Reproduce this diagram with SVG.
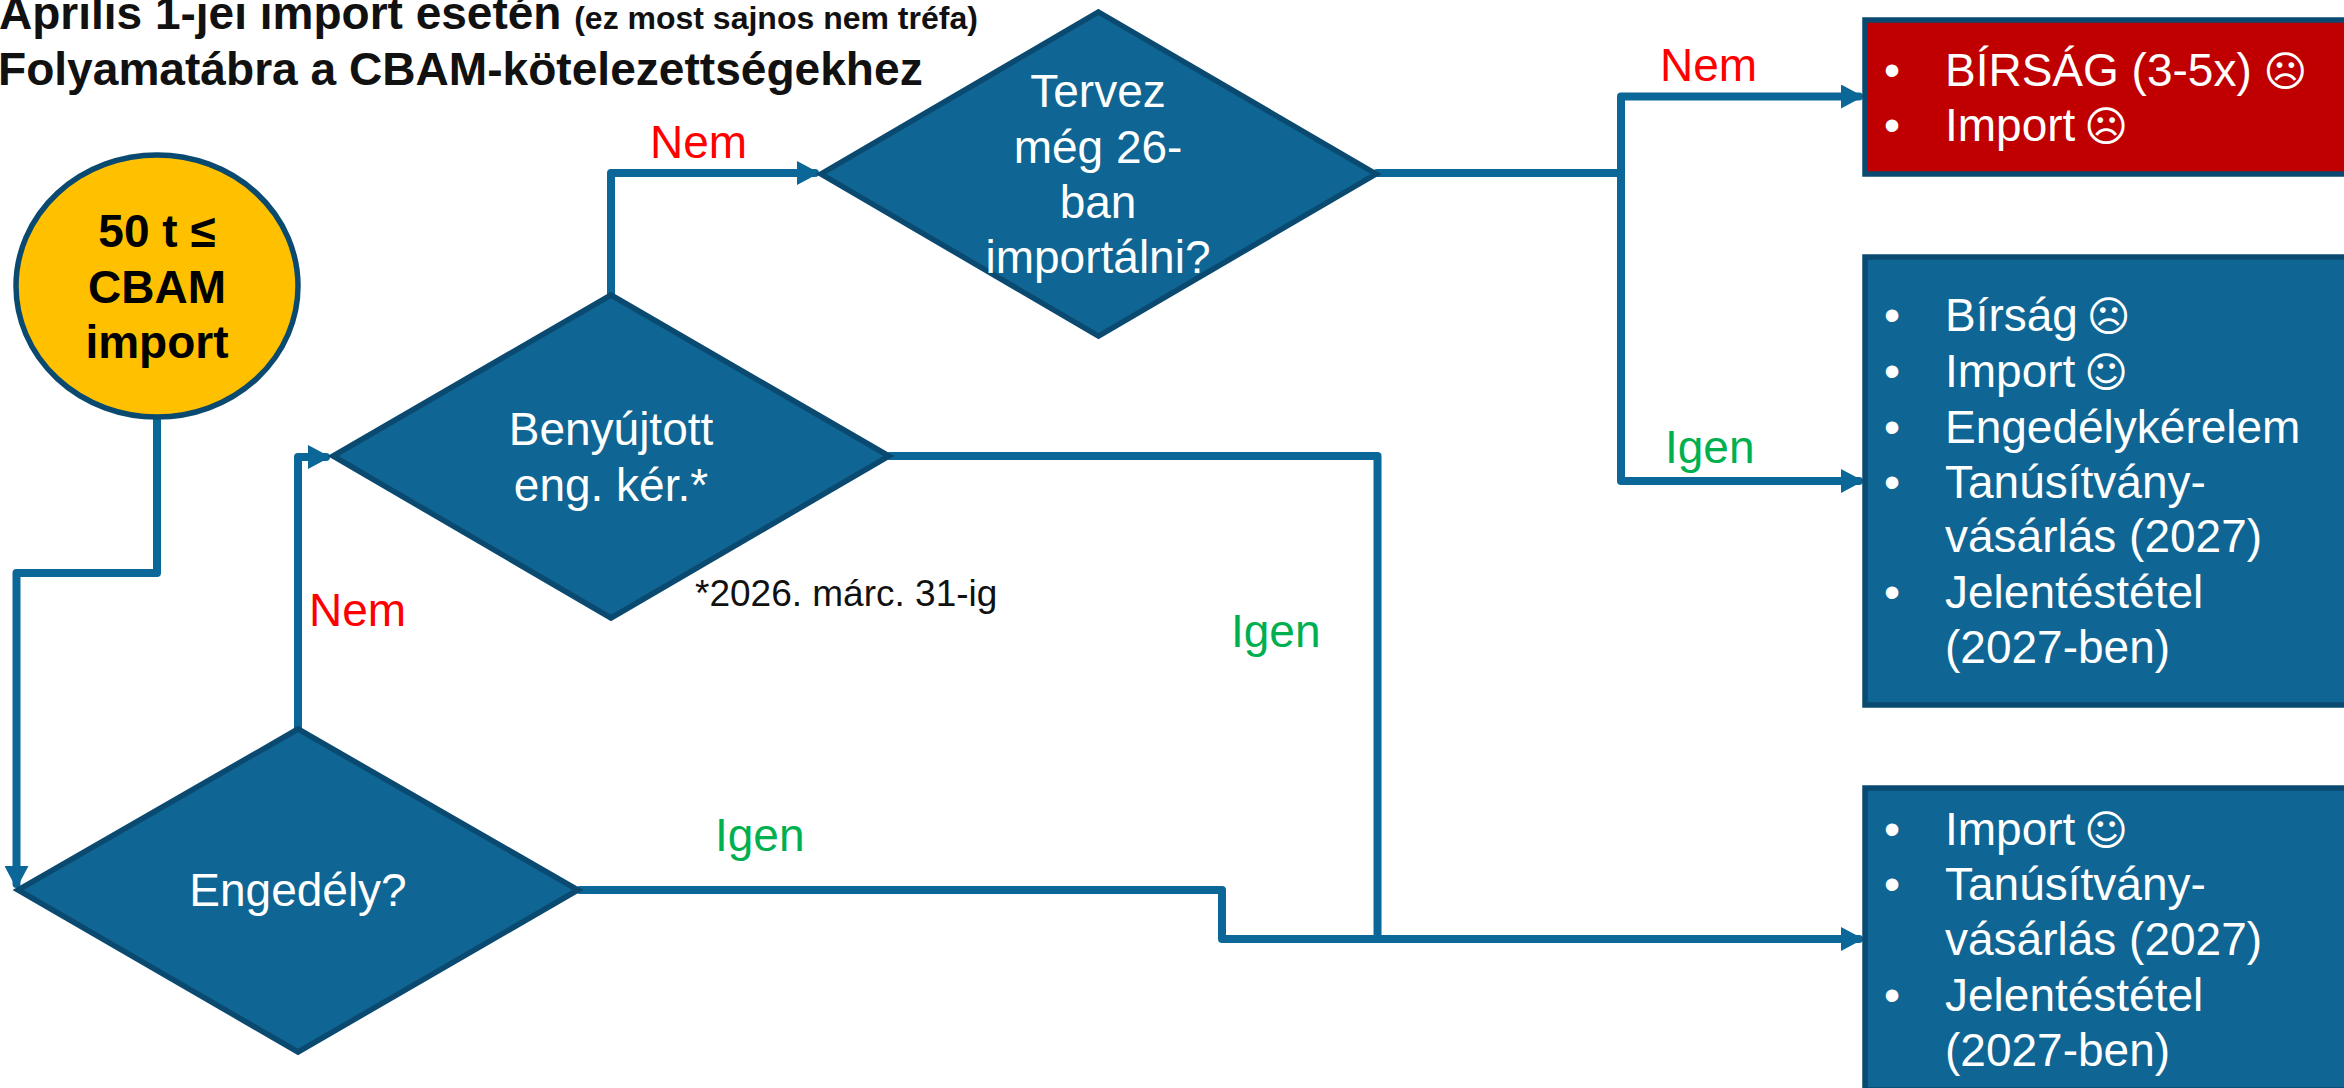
<svg xmlns="http://www.w3.org/2000/svg" width="2344" height="1088" viewBox="0 0 2344 1088">
<defs>
<marker id="arr" markerUnits="userSpaceOnUse" markerWidth="24" markerHeight="24" refX="18" refY="12" orient="auto"><path d="M0 0L22.500 12L0 24Z" fill="#0b6797"/></marker>
</defs>
<style>
text{font-family:"Liberation Sans",Arial,sans-serif;font-size:46px}
.w{fill:#fff}.m{text-anchor:middle}.b{font-weight:700}
.r{fill:#ff0000}.g{fill:#00b050}.k{fill:#111}
.s{font-family:"DejaVu Sans",sans-serif;font-size:42px}
.n{fill:#0f6694;stroke:#0b4a70;stroke-width:5.500;stroke-linejoin:miter}
.c{fill:none;stroke:#0b6797;stroke-width:8;stroke-linejoin:round;stroke-linecap:round}
</style>
<rect width="2344" height="1088" fill="#fff"/>
<g id="title">
<text class="b k" x="-1" y="29">Április 1-jei import esetén <tspan style="font-size:32px">(ez most sajnos nem tréfa)</tspan></text>
<text class="b k" x="-2" y="85" style="font-size:46.100px">Folyamatábra a CBAM-kötelezettségekhez</text>
</g>
<g id="connectors">
<path class="c" d="M157 420V573H16.500V884" marker-end="url(#arr)"/>
<path class="c" d="M298 728V457H326" marker-end="url(#arr)"/>
<path class="c" d="M611 294V173H815" marker-end="url(#arr)"/>
<path class="c" d="M890 456H1377.500V939"/>
<path class="c" d="M580 890H1222V939H1859" marker-end="url(#arr)"/>
<path class="c" d="M1377 173H1621V96.500H1859" marker-end="url(#arr)"/>
<path class="c" d="M1621 173V481H1859" marker-end="url(#arr)"/>
</g>
<g id="start"><ellipse class="n" cx="157" cy="286" rx="141" ry="131" style="fill:#ffc000"/>
<text class="m b" x="157" y="247" fill="#000">50 t ≤</text><text class="m b" x="157" y="303" fill="#000">CBAM</text><text class="m b" x="157" y="358" fill="#000">import</text></g>
<g id="d-tervez"><polygon class="n" points="1098.500,12 1376,174 1098.500,336 821,174"/>
<text class="w m" x="1098" y="107">Tervez</text><text class="w m" x="1098" y="163">még 26-</text><text class="w m" x="1098" y="218">ban</text><text class="w m" x="1098" y="273">importálni?</text></g>
<g id="d-benyujtott"><polygon class="n" points="611,295 889,456 611,618 333,456"/>
<text class="w m" x="611" y="445">Benyújtott</text><text class="w m" x="611" y="501">eng. kér.*</text></g>
<g id="d-engedely"><polygon class="n" points="298,729 578,890 298,1052 18,890"/>
<text class="w m" x="298" y="906">Engedély?</text></g>
<g id="labels">
<text class="r" x="650" y="158">Nem</text><text class="r" x="1660" y="81">Nem</text><text class="r" x="309" y="626">Nem</text>
<text class="g" x="1665" y="463">Igen</text><text class="g" x="715" y="851">Igen</text><text class="g" x="1231" y="647">Igen</text>
<text class="k" x="695" y="606" style="font-size:37px">*2026. márc. 31-ig</text>
</g>
<g id="box-red"><rect class="n" x="1865" y="20" width="500" height="154" style="fill:#c00000"/>
<text class="w" x="1884" y="86">•</text><text class="w" x="1945" y="86">BÍRSÁG (3-5x) <tspan class="s" dx="-1">☹</tspan></text>
<text class="w" x="1884" y="141">•</text><text class="w" x="1945" y="141">Import <tspan class="s" dx="-4">☹</tspan></text></g>
<g id="box-2"><rect class="n" x="1865" y="257" width="500" height="448"/>
<text class="w" x="1884" y="331">•</text><text class="w" x="1945" y="331">Bírság <tspan class="s" dx="-4">☹</tspan></text>
<text class="w" x="1884" y="387">•</text><text class="w" x="1945" y="387">Import <tspan class="s" dx="-4">☺</tspan></text>
<text class="w" x="1884" y="443">•</text><text class="w" x="1945" y="443">Engedélykérelem</text>
<text class="w" x="1884" y="498">•</text><text class="w" x="1945" y="498">Tanúsítvány-</text>
<text class="w" x="1945" y="552">vásárlás (2027)</text>
<text class="w" x="1884" y="608">•</text><text class="w" x="1945" y="608">Jelentéstétel</text>
<text class="w" x="1945" y="663">(2027-ben)</text></g>
<g id="box-3"><rect class="n" x="1865" y="788" width="500" height="302"/>
<text class="w" x="1884" y="845">•</text><text class="w" x="1945" y="845">Import <tspan class="s" dx="-4">☺</tspan></text>
<text class="w" x="1884" y="900">•</text><text class="w" x="1945" y="900">Tanúsítvány-</text>
<text class="w" x="1945" y="955">vásárlás (2027)</text>
<text class="w" x="1884" y="1011">•</text><text class="w" x="1945" y="1011">Jelentéstétel</text>
<text class="w" x="1945" y="1066">(2027-ben)</text></g>
</svg>
